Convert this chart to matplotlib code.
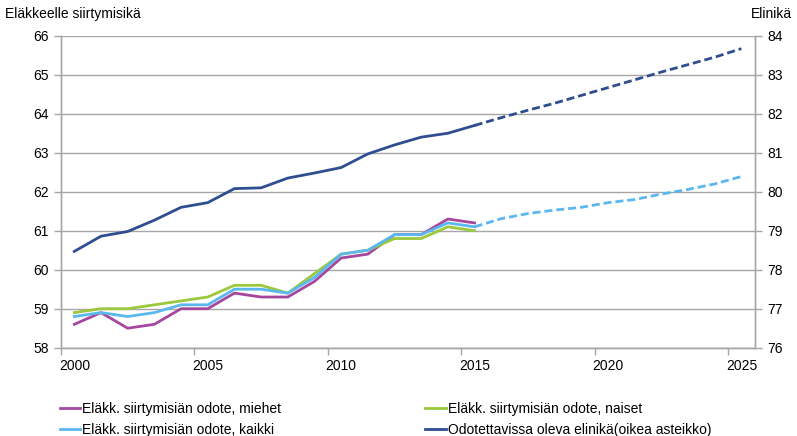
import numpy as np
import matplotlib.pyplot as plt

plt.rcParams['font.family'] = ['Liberation Sans', 'DejaVu Sans']

# havaitut vuodet
vuodet = list(range(2000, 2016))
miehet = [58.6, 58.9, 58.5, 58.6, 59.0, 59.0, 59.4, 59.3, 59.3, 59.7, 60.3, 60.4, 60.9, 60.9, 61.3, 61.2]
naiset = [58.9, 59.0, 59.0, 59.1, 59.2, 59.3, 59.6, 59.6, 59.4, 59.9, 60.4, 60.5, 60.8, 60.8, 61.1, 61.0]
kaikki = [58.8, 58.9, 58.8, 58.9, 59.1, 59.1, 59.5, 59.5, 59.4, 59.8, 60.4, 60.5, 60.9, 60.9, 61.2, 61.1]
elinika = [78.47, 78.86, 78.98, 79.27, 79.6, 79.72, 80.08, 80.1, 80.35, 80.48, 80.62, 80.97, 81.2, 81.4, 81.5, 81.7]

# ennuste 2015-2025
vuodet_enn = list(range(2015, 2026))
kaikki_enn = [61.1, 61.31, 61.44, 61.53, 61.6, 61.72, 61.8, 61.94, 62.06, 62.2, 62.39]
elinika_enn = [81.7, 81.9, 82.09, 82.27, 82.47, 82.67, 82.87, 83.07, 83.26, 83.45, 83.67]

c_miehet = '#A5479F'
c_naiset = '#9BC83C'
c_kaikki = '#5BB8EE'
c_elinika = '#2E4E8F'
harmaa = '#A6A6A6'

fig = plt.figure(figsize=(7.97, 4.36), dpi=100)
ax = fig.add_axes([0.0765, 0.2025, 0.8705, 0.7155])
ax2 = ax.twinx()

lw = 2.0
katko = (0, (2.9, 1.4))
l1, = ax.plot(vuodet, miehet, color=c_miehet, lw=lw, label='Eläkk. siirtymisiän odote, miehet')
l2, = ax.plot(vuodet, naiset, color=c_naiset, lw=lw, label='Eläkk. siirtymisiän odote, naiset')
l3, = ax.plot(vuodet, kaikki, color=c_kaikki, lw=lw, label='Eläkk. siirtymisiän odote, kaikki')
ax.plot(vuodet_enn, kaikki_enn, color=c_kaikki, lw=lw, ls=katko)
l4, = ax2.plot(vuodet, elinika, color=c_elinika, lw=lw, label='Odotettavissa oleva elinikä(oikea asteikko)')
ax2.plot(vuodet_enn, elinika_enn, color=c_elinika, lw=lw, ls=katko)

ax.set_xlim(1999.5, 2025.5)
ax.set_ylim(58, 66)
ax2.set_ylim(76, 84)
ax.set_yticks(range(58, 67))
ax2.set_yticks(range(76, 85))
ax.grid(axis='y', color=harmaa, lw=1)
ax.set_axisbelow(True)

ax.set_xticks(range(2000, 2026, 5))
ax.set_xticks(np.arange(1999.5, 2025, 5), minor=True)
ax.tick_params(axis='x', which='major', length=0, pad=8, labelsize=10)
ax.tick_params(axis='x', which='minor', length=5, color=harmaa, width=1)
ax.tick_params(axis='y', length=5, color=harmaa, width=1, labelsize=10, pad=4)
ax2.tick_params(axis='y', length=5, color=harmaa, width=1, labelsize=10, pad=4)

for a in (ax, ax2):
    a.spines['top'].set_visible(False)
    for s in ('left', 'right', 'bottom'):
        a.spines[s].set_color(harmaa)
        a.spines[s].set_linewidth(1)

fig.text(0.006, 0.968, 'Eläkkeelle siirtymisikä', fontsize=10, va='center', ha='left')
fig.text(0.994, 0.968, 'Elinikä', fontsize=10, va='center', ha='right')

fig.legend(handles=[l1, l3, l2, l4], ncol=2, loc='upper left',
           bbox_to_anchor=(0.075, 0.079), frameon=False, fontsize=10,
           handlelength=1.45, handletextpad=0.15, columnspacing=10.4,
           labelspacing=0.55, borderpad=0, borderaxespad=0)

fig.savefig('out.png', dpi=100)
